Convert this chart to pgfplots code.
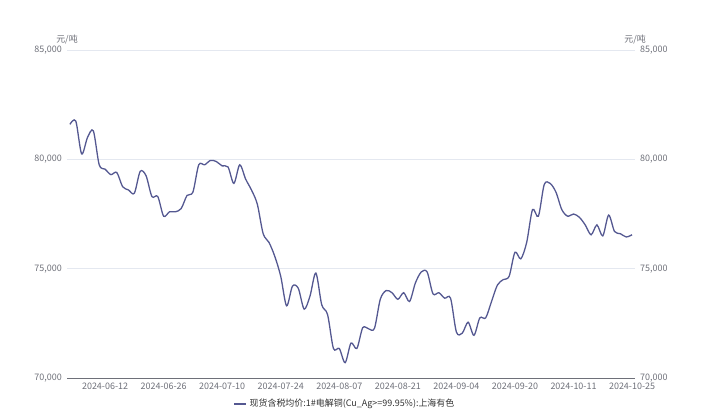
\documentclass[border=0pt]{standalone}
\usepackage{fontspec}
\setmainfont{Noto Sans CJK SC}
\usepackage{pgfplots}
\pgfplotsset{compat=1.18}
\definecolor{linec}{RGB}{84,88,145}
\definecolor{tickc}{RGB}{110,112,121}
\definecolor{gridc}{RGB}{228,232,240}
\pgfplotstableread{
i v
0 81600
1 81750
2 80250
3 81000
4 81300
5 79750
6 79550
7 79300
8 79400
9 78750
10 78600
11 78450
12 79450
13 79250
14 78300
15 78300
16 77400
17 77600
18 77600
19 77750
20 78350
21 78500
22 79750
23 79750
24 79950
25 79900
26 79700
27 79650
28 78900
29 79750
30 79100
31 78600
32 77950
33 76600
34 76200
35 75550
36 74650
37 73300
38 74200
39 74100
40 73150
41 73750
42 74800
43 73350
44 72900
45 71350
46 71350
47 70700
48 71600
49 71350
50 72300
51 72250
52 72270
53 73600
54 74000
55 73900
56 73600
57 73900
58 73500
59 74350
60 74850
61 74850
62 73850
63 73900
64 73650
65 73650
66 72100
67 72050
68 72550
69 71950
70 72750
71 72750
72 73500
73 74250
74 74500
75 74650
76 75750
77 75450
78 76200
79 77700
80 77400
81 78850
82 78900
83 78500
84 77700
85 77400
86 77500
87 77350
88 77000
89 76550
90 77000
91 76500
92 77450
93 76700
94 76600
95 76450
96 76550
}\datatable
\begin{document}
\begin{tikzpicture}[x=1bp,y=1bp]
\useasboundingbox (0,0) rectangle (703,419);
\begin{axis}[at={(67bp,41bp)}, anchor=south west, scale only axis,
  width=568bp, height=328bp,
  xmin=-0.5, xmax=96.5, ymin=70000, ymax=85000,
  scaled y ticks=false,
  axis x line*=bottom, axis y line*=left,
  axis line style={-},
  x axis line style={tickc, line width=1bp},
  y axis line style={draw=none},
  major tick length=0,
  ytick={70000,75000,80000,85000},
  yticklabels={{70,000},{75,000},{80,000},{85,000}},
  xtick={6,16,26,36,46,56,66,76,86,96},
  xticklabels={2024-06-12,2024-06-26,2024-07-10,2024-07-24,2024-08-07,2024-08-21,2024-09-04,2024-09-20,2024-10-11,2024-10-25},
  ymajorgrids, grid style={gridc, line width=0.8bp},
  tick label style={font=\fontsize{9}{10}\selectfont, text=tickc},
  yticklabel style={inner sep=0pt, xshift=-5bp},
  xticklabel style={inner sep=0pt, yshift=-5bp},
  legend style={at={(0.489,-0.079)}, anchor=center, draw=none, fill=none,
    font=\fontsize{9}{10}\selectfont, text=black!80, inner sep=0pt},
  legend image code/.code={\draw[#1, line width=2.5bp] (0,0) -- (12bp,0);},
]
\addplot[linec, line width=1.3bp, smooth, tension=0.5] table[x=i,y=v]{\datatable};
\addlegendentry{现货含税均价:1\#电解铜(Cu\_Ag>=99.95\%):上海有色}
\end{axis}
\begin{axis}[at={(67bp,41bp)}, anchor=south west, scale only axis,
  width=568bp, height=328bp,
  xmin=-0.5, xmax=96.5, ymin=70000, ymax=85000,
  scaled y ticks=false,
  hide x axis, axis y line*=right,
  axis line style={-},
  y axis line style={draw=none},
  major tick length=0,
  ytick={70000,75000,80000,85000},
  yticklabels={{70,000},{75,000},{80,000},{85,000}},
  tick label style={font=\fontsize{9}{10}\selectfont, text=tickc},
  yticklabel style={inner sep=0pt, xshift=5bp},
]
\addplot[draw=none] coordinates {(0,70000)};
\end{axis}
\node[font=\fontsize{9}{10}\selectfont, text=tickc] at (67,379) {元/吨};
\node[font=\fontsize{9}{10}\selectfont, text=tickc] at (635,379) {元/吨};
\end{tikzpicture}
\end{document}
